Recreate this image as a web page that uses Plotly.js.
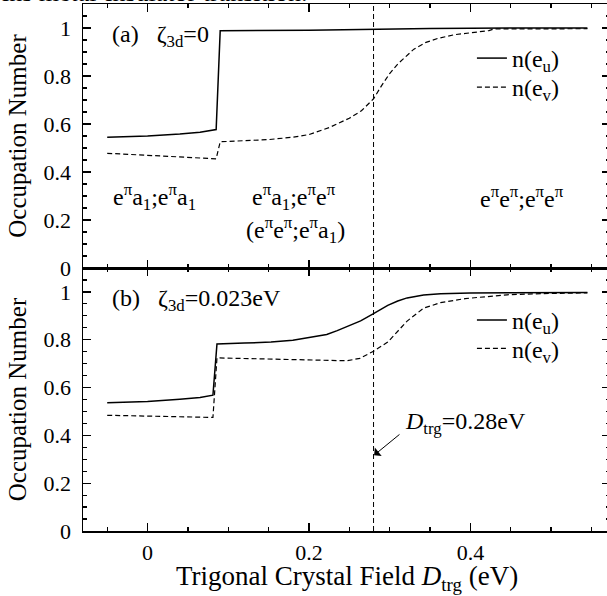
<!DOCTYPE html>
<html><head><meta charset="utf-8">
<script src="https://cdn.plot.ly/plotly-3.0.1.min.js"></script>
<style>html,body{margin:0;padding:0;overflow:hidden;background:#fff}#plot{width:612px;height:596px}</style>
</head><body><div id="plot"></div><script>
// ---- data ----
const D_TRG = 0.28;

// panel (a): zeta_3d = 0
const a_eu_x = [-0.05, 0.0, 0.04, 0.065, 0.085, 0.09, 0.2, 0.28, 0.35, 0.45, 0.545];
const a_eu_y = [0.545, 0.550, 0.558, 0.566, 0.577, 0.989, 0.991, 0.995, 0.998, 1.0, 1.0];
const a_ev_x = [-0.05, 0.0, 0.04, 0.065, 0.085, 0.09, 0.12, 0.15, 0.18, 0.20, 0.225, 0.25, 0.265, 0.28, 0.29, 0.30, 0.31, 0.32, 0.33, 0.345, 0.36, 0.38, 0.40, 0.423, 0.429, 0.48, 0.545];
const a_ev_y = [0.478, 0.470, 0.462, 0.458, 0.455, 0.526, 0.529, 0.535, 0.545, 0.556, 0.585, 0.624, 0.655, 0.705, 0.760, 0.810, 0.850, 0.882, 0.912, 0.940, 0.957, 0.972, 0.981, 0.989, 0.996, 0.997, 0.997];

// panel (b): zeta_3d = 0.023 eV
const b_eu_x = [-0.05, 0.0, 0.04, 0.065, 0.081, 0.086, 0.12, 0.153, 0.18, 0.20, 0.222, 0.235, 0.25, 0.264, 0.28, 0.2976, 0.31, 0.3216, 0.342, 0.363, 0.40, 0.45, 0.545];
const b_eu_y = [0.536, 0.542, 0.551, 0.558, 0.568, 0.782, 0.786, 0.790, 0.798, 0.808, 0.822, 0.838, 0.858, 0.879, 0.909, 0.944, 0.962, 0.975, 0.987, 0.992, 0.995, 0.997, 0.998];
const b_ev_x = [-0.05, 0.0, 0.04, 0.081, 0.086, 0.12, 0.153, 0.18, 0.22, 0.247, 0.263, 0.28, 0.2976, 0.31, 0.3216, 0.342, 0.363, 0.3935, 0.4455, 0.49, 0.545];
const b_ev_y = [0.484, 0.481, 0.478, 0.475, 0.724, 0.722, 0.720, 0.716, 0.713, 0.712, 0.722, 0.752, 0.790, 0.835, 0.878, 0.932, 0.955, 0.972, 0.988, 0.993, 0.996];

const seriesNames = ['n(e<sub>u</sub>)', 'n(e<sub>v</sub>)'];
const xTitle = 'Trigonal Crystal Field <i>D</i><sub>trg</sub> (eV)';
const yTitle = 'Occupation Number';

// ---- styling ----
const FONT = '"Liberation Serif", "Times New Roman", Times, serif';
const solid = {color: '#000', width: 1.5};
const dashed = {color: '#000', width: 1.2, dash: '5px,3px'};

const traces = [
  {x: a_eu_x, y: a_eu_y, xaxis: 'x2', yaxis: 'y2', mode: 'lines', line: solid, name: seriesNames[0], legend: 'legend', showlegend: true},
  {x: a_ev_x, y: a_ev_y, xaxis: 'x2', yaxis: 'y2', mode: 'lines', line: dashed, name: seriesNames[1], legend: 'legend2', showlegend: true},
  {x: b_eu_x, y: b_eu_y, xaxis: 'x', yaxis: 'y', mode: 'lines', line: solid, name: seriesNames[0], legend: 'legend3', showlegend: true},
  {x: b_ev_x, y: b_ev_y, xaxis: 'x', yaxis: 'y', mode: 'lines', line: dashed, name: seriesNames[1], legend: 'legend4', showlegend: true}
];

function axisBase(extra) {
  return Object.assign({
    ticks: 'inside', ticklen: 8, tickwidth: 1.2, tickcolor: '#000',
    showline: true, linecolor: '#000', linewidth: 1.5, mirror: 'allticks',
    showgrid: false, zeroline: false,
    tickfont: {size: 22, family: FONT, color: '#000'},
    ticklabelstandoff: 6
  }, extra);
}
const xr = [-0.08, 0.573], yr = [0, 1.1];
const minorX = {dtick: 0.05, ticks: 'inside', ticklen: 4, tickwidth: 1.2, tickcolor: '#000', showgrid: false};
const minorY = {dtick: 0.05, ticks: 'inside', ticklen: 4, tickwidth: 1.2, tickcolor: '#000', showgrid: false};
const split = 263 / 527;

const annFont = {family: FONT, size: 24, color: '#000'};
function ann(text, x, y, xref, yref, xanchor, extra) {
  return Object.assign({text: text, x: x, y: y, xref: xref, yref: yref, xanchor: xanchor, yanchor: 'middle', showarrow: false, font: annFont}, extra || {});
}
function leg(y) {
  return {x: 0.738, y: y, xanchor: 'left', yanchor: 'top', bgcolor: 'rgba(0,0,0,0)', borderwidth: 0,
    font: {size: 24, family: FONT, color: '#000'}, itemwidth: 30, tracegroupgap: 0, visible: true};
}

const layout = {
  width: 612, height: 596,
  margin: {l: 83, r: 2, t: 4, b: 65},
  paper_bgcolor: '#fff', plot_bgcolor: '#fff',
  font: {family: FONT, color: '#000'},
  showlegend: true,
  xaxis: axisBase({domain: [0, 1], range: xr, dtick: 0.2, tick0: 0, minor: minorX, anchor: 'y', ticklabelstandoff: 1}),
  xaxis2: axisBase({domain: [0, 1], range: xr, dtick: 0.2, tick0: 0, minor: minorX, anchor: 'y2', matches: 'x', showticklabels: false}),
  yaxis: axisBase({domain: [0, split], range: yr, dtick: 0.2, tick0: 0, minor: minorY, anchor: 'x',
    title: {text: yTitle, font: {size: 25, family: FONT, color: '#000'}, standoff: 10}}),
  yaxis2: axisBase({domain: [split, 1], range: yr, dtick: 0.2, tick0: 0, minor: minorY, anchor: 'x2',
    title: {text: yTitle, font: {size: 25, family: FONT, color: '#000'}, standoff: 10}}),
  legend: leg(0.9393),
  legend2: leg(0.8843),
  legend3: leg(0.4425),
  legend4: leg(0.3886),
  shapes: [
    {type: 'line', xref: 'x', yref: 'paper', x0: D_TRG, x1: D_TRG, y0: 0, y1: 1, line: {color: '#000', width: 1, dash: '5px,3px'}}
  ],
  annotations: [
    ann('(a)\u00a0\u00a0\u00a0ζ<sub>3d</sub>=0', -0.046, 0.967, 'x2', 'y2', 'left'),
    ann('(b)\u00a0\u00a0\u00a0ζ<sub>3d</sub>=0.023eV', -0.046, 0.965, 'x', 'y', 'left'),
    ann('e<sup>π</sup>a<sub>1</sub>;e<sup>π</sup>a<sub>1</sub>', -0.0456, 0.297, 'x2', 'y2', 'left'),
    ann('e<sup>π</sup>a<sub>1</sub>;e<sup>π</sup>e<sup>π</sup>', 0.181, 0.297, 'x2', 'y2', 'center'),
    ann('(e<sup>π</sup>e<sup>π</sup>;e<sup>π</sup>a<sub>1</sub>)', 0.1835, 0.16, 'x2', 'y2', 'center'),
    ann('e<sup>π</sup>e<sup>π</sup>;e<sup>π</sup>e<sup>π</sup>', 0.464, 0.297, 'x2', 'y2', 'center'),
    ann('<i>D</i><sub>trg</sub>=0.28eV', 0.317, 0.451, 'x', 'y', 'left'),
    {text: '', x: 0.2807, y: 0.317, xref: 'x', yref: 'y', ax: 0.314, ay: 0.409, axref: 'x', ayref: 'y',
      showarrow: true, arrowhead: 1, arrowsize: 1.8, arrowwidth: 1, arrowcolor: '#000', standoff: 0},
    // x-axis title, placed as an annotation to sit tight under the tick labels as in the reference
    {text: xTitle, xref: 'paper', yref: 'paper', x: 0.5, y: -0.090, xanchor: 'center', yanchor: 'middle', showarrow: false,
      font: {family: FONT, size: 27, color: '#000'}},
    {text: 'ins metal-insulator transition.', xref: 'paper', yref: 'paper', x: -83/527, y: 1, xanchor: 'left', yanchor: 'bottom',
      yshift: -5, showarrow: false, font: {family: FONT, size: 26, color: '#000'}}
  ]
};

Plotly.newPlot('plot', traces, layout, {staticPlot: true, displayModeBar: false});
</script></body></html>
